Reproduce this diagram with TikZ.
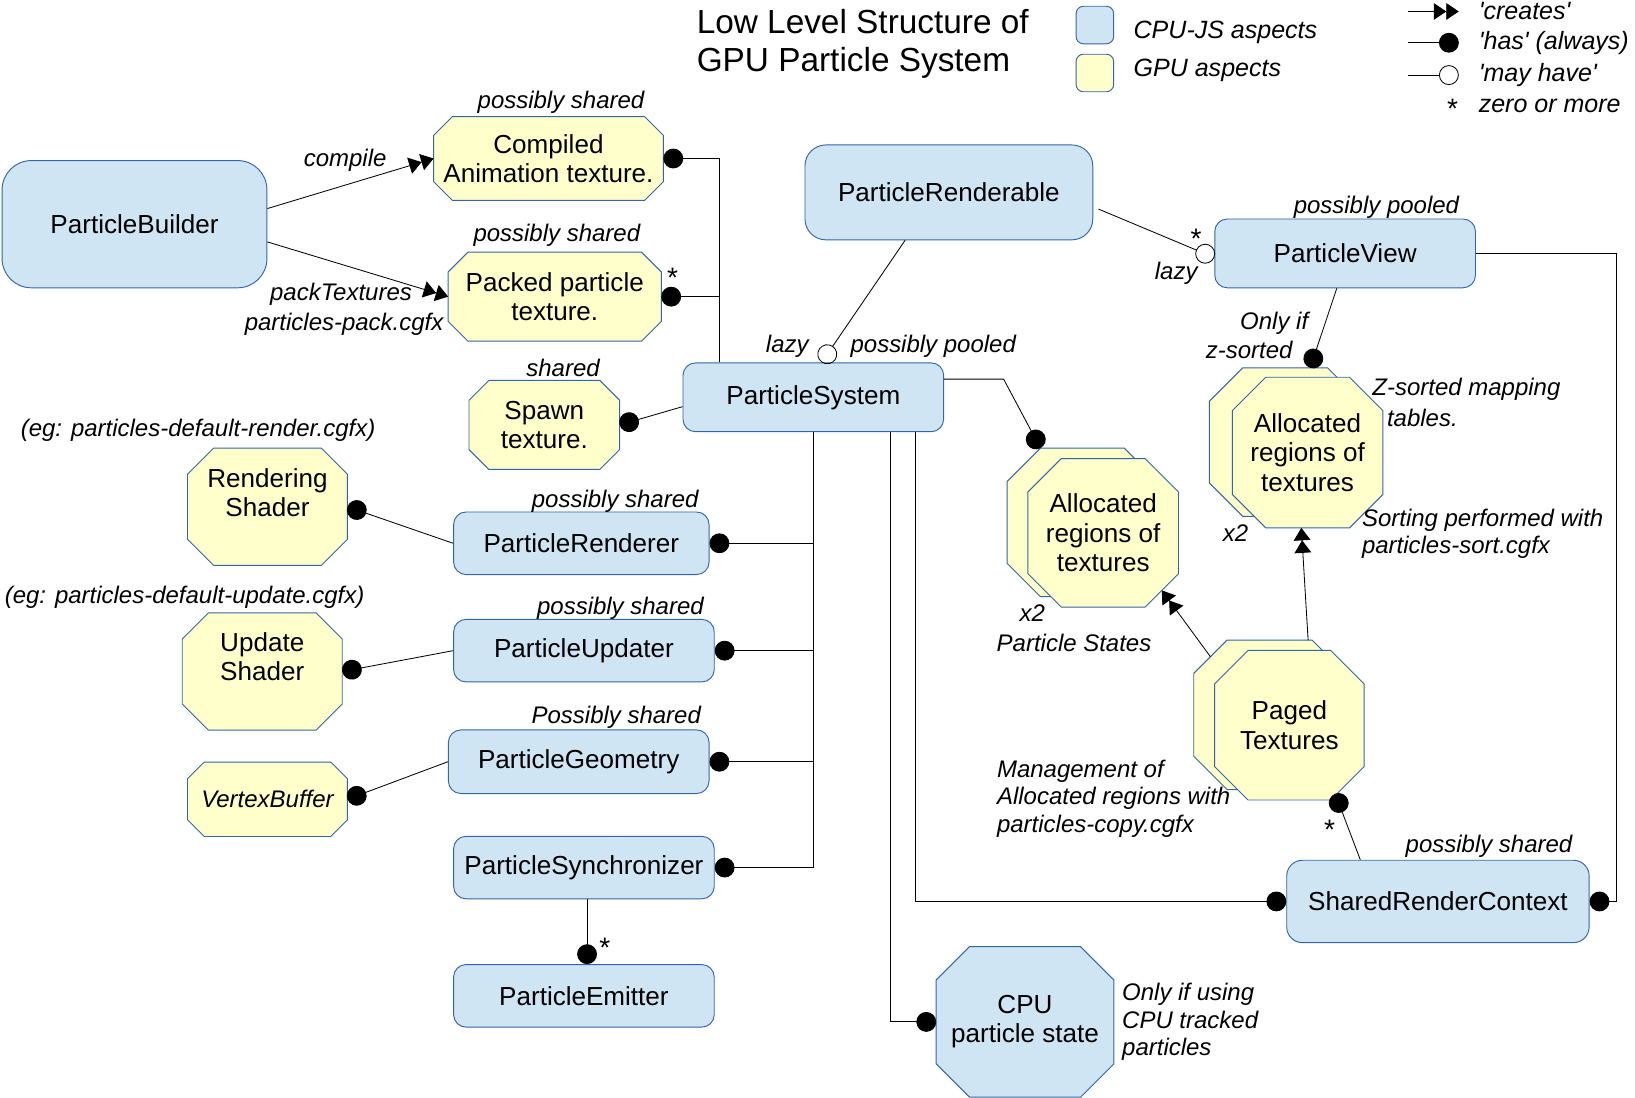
\documentclass[tikz,border=0pt]{standalone}
\usepackage{fontspec}
\setmainfont{Liberation Sans}
\usepackage{tikz}
\usetikzlibrary{arrows.meta,calc,backgrounds}

\definecolor{cpufill}{RGB}{207,229,244}
\definecolor{gpufill}{RGB}{255,255,204}
\definecolor{edgeblue}{RGB}{52,101,164}

\newcommand{\nodefont}{\fontsize{25}{28}\selectfont}
\newcommand{\notefont}{\fontsize{23}{26}\selectfont\itshape}
\newcommand{\starfont}{\fontsize{27}{28}\selectfont}
\newcommand{\legendfont}{\fontsize{24}{30}\selectfont\itshape}
\newcommand{\titlefont}{\fontsize{32}{36}\selectfont}

\newcommand{\octshape}[3]{%
    \begin{scope}[on background layer]
        \filldraw[octborder, fill=#3]
            ($(#1.north west)+(#2pt,0pt)$) -- ($(#1.north east)+(-#2pt,0pt)$) --
            ($(#1.north east)+(0pt,-#2pt)$) -- ($(#1.south east)+(0pt,#2pt)$) --
            ($(#1.south east)+(-#2pt,0pt)$) -- ($(#1.south west)+(#2pt,0pt)$) --
            ($(#1.south west)+(0pt,#2pt)$) -- ($(#1.north west)+(0pt,-#2pt)$) -- cycle;
    \end{scope}}

\tikzset{
    cpubox/.style={rectangle, rounded corners=12pt, draw=edgeblue, line width=0.9pt, fill=cpufill, font=\nodefont, align=center, inner sep=0pt},
    gpubox/.style={rectangle, font=\nodefont, align=center, inner sep=0pt},
    octborder/.style={draw=edgeblue, line width=0.9pt},
    note/.style={font=\notefont, inner sep=0pt},
    starnote/.style={font=\starfont, inner sep=0pt},
    keytext/.style={font=\legendfont, anchor=west, inner sep=0pt},
    link/.style={line width=0.8pt},
    has/.style={link, -{Circle[length=19pt]}},
    mayhave/.style={link, -{Circle[open, length=19pt]}},
    creates/.style={link, -{Triangle[length=12pt,width=16pt]Triangle[length=12pt,width=16pt]}}
}

\begin{document}
\begin{tikzpicture}[x=1pt, y=-1pt]
    \useasboundingbox (0,0) rectangle (1568,1053);

    \node[font=\titlefont, align=left, anchor=west, inner sep=0pt] (title) at (668,42) {Low Level Structure of\\GPU Particle System};
    \node[cpubox, rounded corners=7pt, minimum width=36pt, minimum height=36pt] (keycpu) at (1050,24) {};
    \node[cpubox, fill=gpufill, rounded corners=7pt, minimum width=36pt, minimum height=36pt] (keygpu) at (1050,70) {};
    \node[keytext] (keycputext) at (1087,31) {CPU-JS aspects};
    \node[keytext] (keygputext) at (1087,67) {GPU aspects};

    \coordinate (keycreatesA) at (1350,11);
    \coordinate (keycreatesB) at (1399,11);
    \coordinate (keyhasA) at (1350,41);
    \coordinate (keyhasB) at (1399,41);
    \coordinate (keymayA) at (1350,72);
    \coordinate (keymayB) at (1399,72);
    \draw[creates] (keycreatesA) -- (keycreatesB);
    \draw[has] (keyhasA) -- (keyhasB);
    \draw[mayhave] (keymayA) -- (keymayB);
    \node[keytext] (keycreates) at (1418,11) {{\textquotesingle}creates{\textquotesingle}};
    \node[keytext] (keyhas) at (1418,41) {{\textquotesingle}has{\textquotesingle} (always)};
    \node[keytext] (keymay) at (1418,72) {{\textquotesingle}may have{\textquotesingle}};
    \node[starnote] (keystar) at (1393,104) {*};
    \node[keytext] (keymany) at (1418,102) {zero or more};

    \node[cpubox, rounded corners=28pt, minimum width=254pt, minimum height=122pt] (builder) at (129,215) {ParticleBuilder};
    \node[gpubox, minimum width=220pt, minimum height=80pt] (compiled) at (526,152) {Compiled\\Animation texture.};
    \node[gpubox, minimum width=204pt, minimum height=85pt] (packed) at (532,284.5) {Packed particle\\texture.};
    \node[gpubox, minimum width=144pt, minimum height=85pt] (spawn) at (522,407.5) {Spawn\\texture.};
    \node[cpubox, minimum width=250pt, minimum height=66pt] (system) at (780,381) {ParticleSystem};
    \node[cpubox, rounded corners=20pt, minimum width=276pt, minimum height=91pt] (renderable) at (910,184.5) {ParticleRenderable};
    \node[cpubox, minimum width=250pt, minimum height=66pt] (view) at (1290,243) {ParticleView};
    \node[gpubox, minimum width=153pt, minimum height=112pt] (rendershader) at (256.5,486) {Rendering\\Shader\\\mbox{}};
    \node[cpubox, minimum width=245pt, minimum height=60pt] (renderer) at (557.5,521) {ParticleRenderer};
    \node[gpubox, minimum width=153pt, minimum height=112pt] (updateshader) at (251.5,644) {Update\\Shader\\\mbox{}};
    \node[cpubox, minimum width=250pt, minimum height=60pt] (updater) at (560,624) {ParticleUpdater};
    \node[cpubox, minimum width=250pt, minimum height=61pt] (geometry) at (555,730.5) {ParticleGeometry};
    \node[gpubox, font=\notefont, minimum width=153pt, minimum height=71pt] (vertexbuffer) at (256.5,766.5) {VertexBuffer};
    \node[cpubox, minimum width=250pt, minimum height=60pt] (sync) at (560,832) {ParticleSynchronizer};
    \node[cpubox, minimum width=250pt, minimum height=60pt] (emitter) at (560,955) {ParticleEmitter};
    \node[gpubox, minimum width=170pt, minimum height=144pt] (cpustate) at (983,980) {CPU\\particle state};
    \node[gpubox, minimum width=144pt, minimum height=142pt] (statesback) at (1038,501) {};
    \node[gpubox, minimum width=144pt, minimum height=142pt] (statesfront) at (1058,511) {Allocated\\regions of\\textures};
    \node[gpubox, minimum width=145pt, minimum height=142pt] (sortedback) at (1232.5,424) {};
    \node[gpubox, minimum width=144pt, minimum height=144pt] (sortedfront) at (1254,434) {Allocated\\regions of\\textures};
    \node[gpubox, minimum width=145pt, minimum height=143pt] (pagedback) at (1217.5,685.5) {};
    \node[gpubox, minimum width=143pt, minimum height=143pt] (pagedfront) at (1236.5,695.5) {Paged\\Textures};
    \node[cpubox, rounded corners=15pt, minimum width=290pt, minimum height=79pt] (context) at (1379,864.5) {SharedRenderContext};

    \octshape{compiled}{18}{gpufill}
    \octshape{packed}{19}{gpufill}
    \octshape{spawn}{19}{gpufill}
    \octshape{rendershader}{25}{gpufill}
    \octshape{updateshader}{25}{gpufill}
    \octshape{vertexbuffer}{16}{gpufill}
    \octshape{cpustate}{32}{cpufill}
    \octshape{statesback}{32}{gpufill}
    \octshape{statesfront}{32}{gpufill}
    \octshape{sortedback}{32}{gpufill}
    \octshape{sortedfront}{32}{gpufill}
    \octshape{pagedback}{32}{gpufill}
    \octshape{pagedfront}{32}{gpufill}

    \draw[creates] ($(builder.east)+(0pt,15pt)$) -- (compiled.west);
    \draw[creates] ($(builder.east)+(0pt,-17pt)$) -- (packed.west);

    \coordinate (texbus) at ($(system.north west)+(35pt,0pt)$);
    \draw[has] (texbus) |- (compiled.east);
    \draw[has] (texbus |- packed.east) -- (packed.east);
    \draw[has] ($(system.west)+(0pt,-9pt)$) -- (spawn.east);

    \draw[has] (system.south) |- (sync.east);
    \draw[has] (system.south |- renderer.east) -- (renderer.east);
    \draw[has] (system.south |- updater.east) -- (updater.east);
    \draw[has] (system.south |- geometry.east) -- (geometry.east);
    \draw[has] ($(system.south)+(74pt,0pt)$) |- (cpustate.west);
    \draw[has] ($(system.south)+(98pt,0pt)$) |- (context.west);
    \draw[has] ($(system.north east)+(0pt,-16pt)$) -- ++(57pt,0pt) -- ($(statesback.north west)+(32pt,0pt)$);

    \draw[has] (renderer.west) -- (rendershader.east);
    \draw[has] (updater.west) -- (updateshader.east);
    \draw[has] (geometry.west) -- (vertexbuffer.east);
    \draw[has] ($(sync.south)+(3pt,0pt)$) -- ($(emitter.north)+(3pt,0pt)$);

    \draw[mayhave] ($(renderable.south)+(-42pt,0pt)$) -- ($(system.north)+(8pt,0pt)$);
    \draw[mayhave] ($(renderable.east)+(5pt,-16pt)$) -- ($(view.west)+(0pt,-4pt)$);

    \draw[has] ($(view.south)+(-8pt,0pt)$) -- ($(sortedback.north)+(24pt,0pt)$);
    \draw[has] (view.east) -- ++(135pt,0pt) |- (context.east);

    \draw[creates] ($(pagedback.north west)+(16pt,-16pt)$) -- ($(statesfront.south east)+(-16pt,16pt)$);
    \draw[creates] ($(pagedback.north)+(37pt,0pt)$) -- ($(sortedfront.south)+(-6pt,0pt)$);
    \draw[has] ($(context.north west)+(71pt,0pt)$) -- ($(pagedfront.south)+(44pt,6pt)$);

    \node[note] (compiledtag) at (538,98) {possibly shared};
    \node[note] (compiletag) at (331,154) {compile};
    \node[note] (packtag) at (327,282) {packTextures};
    \node[note] (packfile) at (330,311) {particles-pack.cgfx};
    \node[note] (packedtag) at (534,226) {possibly shared};
    \node[starnote] (packedstar) at (645,266) {*};
    \node[note] (spawntag) at (540,353) {shared};
    \node[note] (renderfile) at (190,413) {(eg: particles-default-render.cgfx)};
    \node[note] (renderertag) at (590,481) {possibly shared};
    \node[note] (updatefile) at (177,573) {(eg: particles-default-update.cgfx)};
    \node[note] (updatertag) at (595,583) {possibly shared};
    \node[note] (geometrytag) at (591,688) {Possibly shared};
    \node[starnote] (emitterstar) at (580,909) {*};
    \node[note] (systemlazy) at (755,332) {lazy};
    \node[note] (systemtag) at (895,332) {possibly pooled};
    \node[note] (viewtag) at (1320,199) {possibly pooled};
    \node[starnote] (viewstar) at (1147,229) {*};
    \node[note] (viewlazy) at (1128,262) {lazy};
    \node[note] (onlyif) at (1222,310) {Only if};
    \node[note] (zsorted) at (1198,336) {z-sorted};
    \node[note, anchor=west] (sortedtag) at (1316,373) {Z-sorted mapping};
    \node[note, anchor=west] (sortedtag2) at (1330,401) {tables.};
    \node[note] (sortedx) at (1185,511) {x2};
    \node[note, anchor=west] (sortnote) at (1306,499) {Sorting performed with};
    \node[note, anchor=west] (sortfile) at (1306,525) {particles-sort.cgfx};
    \node[note] (statesx) at (990,588) {x2};
    \node[note] (statestag) at (1030,617) {Particle States};
    \node[note, anchor=west, align=left] (copynote) at (956,766) {Management of\\Allocated regions with\\particles-copy.cgfx};
    \node[starnote] (pagedstar) at (1275,796) {*};
    \node[note] (contexttag) at (1428,812) {possibly shared};
    \node[note, anchor=west, align=left] (cpunote) at (1076,980) {Only if using\\CPU tracked\\particles};
\end{tikzpicture}
\end{document}
